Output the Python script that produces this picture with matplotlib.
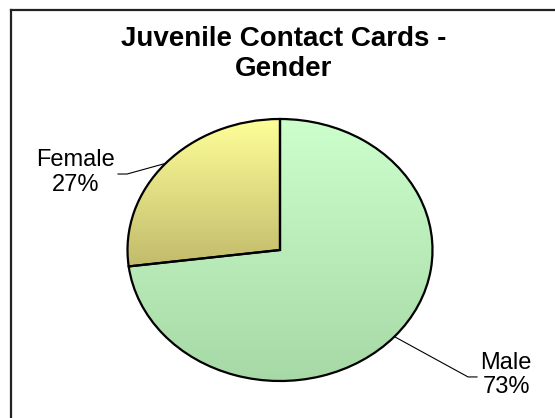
import numpy as np
import matplotlib
matplotlib.use("Agg")
import matplotlib.pyplot as plt
from matplotlib.lines import Line2D
from matplotlib.colors import LinearSegmentedColormap

plt.rcParams['font.family'] = ['Liberation Sans', 'DejaVu Sans']

title = "Juvenile Contact Cards -\nGender"
labels = ['Male', 'Female']
shares = [73, 27]
# (top, bottom) gradient colours per slice
shades = [('#ccffcc', '#a6d9a6'), ('#ffff99', '#c2bb6c')]

fig = plt.figure(figsize=(5.55, 4.18), dpi=100)

# chart frame: only top and left edges fall inside the image
fig.add_artist(Line2D([11/555, 1.0], [1 - 10/418, 1 - 10/418], transform=fig.transFigure,
                      color='#222222', lw=1.6))
fig.add_artist(Line2D([11/555, 11/555], [0.0, 1 - 10/418], transform=fig.transFigure,
                      color='#222222', lw=1.6))

fig.text(284/555, 1 - 26/418, title, ha='center', va='top', fontsize=20,
         fontweight='bold', linespacing=1.2)

# slightly squashed pie, like the flattened 3-D look
ax = fig.add_axes([(280 - 152.5)/555, (418 - 381)/418, 305/555, 262/418])
wedges, _ = ax.pie(shares, startangle=90, counterclock=False, radius=1.0,
                   wedgeprops=dict(facecolor='none', edgecolor='black', linewidth=1.6))
ax.set_aspect('auto')

for w, (top, bot) in zip(wedges, shades):
    w.set_zorder(3)
    ext = w.get_path().get_extents()
    cmap = LinearSegmentedColormap.from_list('g', [bot, top])
    grad = np.linspace(0, 1, 256).reshape(-1, 1)
    im = ax.imshow(grad, cmap=cmap, origin='lower', aspect='auto',
                   extent=[ext.x0, ext.x1, ext.y0, ext.y1], zorder=1)
    im.set_clip_path(w)
ax.set_xlim(-1, 1)
ax.set_ylim(-1, 1)

# leader elbows and label centres (pie coordinates)
elbows = [[(1.233, -0.969), (1.292, -0.969)], [(-1.003, 0.58), (-1.062, 0.58)]]
label_pos = [(1.482, -0.954), (-1.338, 0.592)]

for w, lab, val, elb, pos in zip(wedges, labels, shares, elbows, label_pos):
    mid = np.deg2rad((w.theta1 + w.theta2) / 2)
    xs = [np.cos(mid)] + [p[0] for p in elb]
    ys = [np.sin(mid)] + [p[1] for p in elb]
    ax.plot(xs, ys, color='black', lw=0.8, clip_on=False, zorder=4)
    ax.text(pos[0], pos[1], f"{lab}\n{val}%", ha='center', va='center',
            fontsize=17, linespacing=1.15)

fig.savefig('out.png', dpi=100)
